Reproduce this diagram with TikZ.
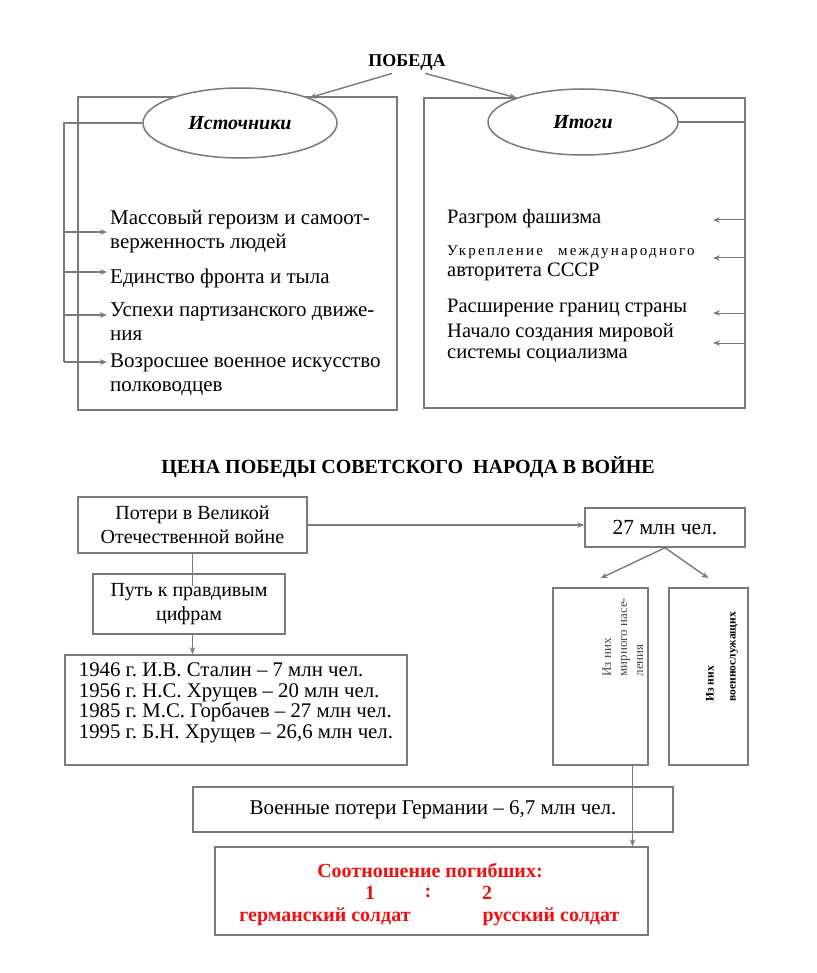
\documentclass[tikz,border=0pt]{standalone}
\usepackage{fontspec}
\setmainfont{Liberation Serif}
\frenchspacing
\usetikzlibrary{shapes.geometric,calc,arrows.meta}
\definecolor{frame}{HTML}{7A7A7A}
\definecolor{ratiored}{HTML}{F01010}
\begin{document}
\begin{tikzpicture}[x=1pt,y=-1pt,>={Stealth[length=7pt,width=5.5pt]},
    frm/.style={draw=frame,line width=1.5pt},
    box/.style={frm,fill=white,align=center,inner sep=2pt,font=\fontsize{20}{24}\selectfont},
    oval/.style={frm,ellipse,fill=white,font=\fontsize{20}{24}\selectfont\bfseries\itshape},
    conn/.style={draw=frame,line width=1.4pt},
    item/.style={anchor=west,align=left,inner sep=0pt,font=\fontsize{21}{24}\selectfont},
    ritem/.style={item,font=\fontsize{20.5}{21}\selectfont},
    rtxt/.style={text=ratiored,font=\fontsize{20}{24}\selectfont\bfseries}]
  \useasboundingbox (0,0) rectangle (816,973);
  \fill[white] (0,0) rectangle (816,973);
  \node[font=\fontsize{18}{22}\selectfont\bfseries] (pobeda) at (407,62) {ПОБЕДА};
  \draw[frm] (78,97) rectangle (397,410);
  \draw[frm] (424,98) rectangle (745,408);
  \node[oval,minimum width=194,minimum height=70] (ist) at (240,123) {Источники};
  \node[oval,minimum width=190,minimum height=66] (itog) at (583,122) {Итоги};
  \draw[conn,->] ([xshift=-15pt]pobeda.south) -- (ist.20);
  \draw[conn,->] ([xshift=18pt]pobeda.south) -- (itog.160);
  \node[item] (i1) at (110,232) {Массовый героизм и самоот-\\верженность людей};
  \node[item] (i2) at (110,278) {Единство фронта и тыла};
  \node[item] (i3) at (110,322) {Успехи партизанского движе-\\ния};
  \node[item] (i4) at (110,375) {Возросшее военное искусство\\полководцев};
  \coordinate (lbr) at (64,123);
  \foreach \n/\y in {1/232,2/272,3/315,4/362} \coordinate (la\n) at (64,\y);
  \draw[conn] (ist.west) -- (ist.west -| lbr) -- (la4);
  \foreach \n in {1,...,4} \draw[conn,->] (la\n) -- ([xshift=-3pt]la\n -| i\n.west);
  \node[ritem] (r1) at (447,219) {Разгром фашизма};
  \node[ritem] (r2) at (447,263) {{\fontsize{15}{21}\selectfont\addfontfeature{LetterSpace=15}Укрепление\quad международного}\\авторитета СССР};
  \node[ritem] (r3) at (447,308) {Расширение границ страны};
  \node[ritem] (r4) at (447,343) {Начало создания мировой\\системы социализма};
  \foreach \n/\y in {1/220,2/258,3/313,4/343} {\coordinate (ra\n) at (745,\y); \coordinate (rb\n) at (713,\y);}
  \draw[conn] (itog.east) -- (itog.east -| ra1) -- (ra4);
  \foreach \n in {1,...,4} \draw[conn,line width=1pt,->] (ra\n) -- (rb\n);
  \node[font=\fontsize{20}{24}\selectfont\bfseries] (cena) at (408,467) {ЦЕНА ПОБЕДЫ СОВЕТСКОГО\ \ НАРОДА В ВОЙНЕ};
  \node[box,minimum width=229,minimum height=56] (poteri) at (192.5,525) {Потери в Великой\\Отечественной войне};
  \node[box,minimum width=160,minimum height=39,font=\fontsize{21.5}{24}\selectfont] (mln) at (665,527.5) {27 млн чел.};
  \node[box,minimum width=192,minimum height=60] (put) at (189,604) {Путь к правдивым\\цифрам};
  \node[box,minimum width=342,minimum height=110] (spisok) at (236,710) {};
  \node[align=left,inner sep=0pt,font=\fontsize{20.8}{20.5}\selectfont] (spisoktxt) at (236,703) {1946 г. И.В. Сталин – 7 млн чел.\\1956 г. Н.С. Хрущев – 20 млн чел.\\1985 г. М.С. Горбачев – 27 млн чел.\\1995 г. Б.Н. Хрущев – 26,6 млн чел.};
  \node[box,minimum width=95,minimum height=177] (tl) at (600.5,676.5) {};
  \node[box,minimum width=79,minimum height=177] (tr) at (708.5,676.5) {};
  \node[rotate=90,anchor=west,align=left,text=black!70,font=\fontsize{13}{16}\selectfont] (tlt) at (623,680) {Из них\\мирного насе-\\ления};
  \node[rotate=90,anchor=west,align=left,font=\fontsize{11.5}{22}\selectfont\bfseries] (trt) at (722,705) {Из них\\военнослужащих};
  \draw[conn,->] (poteri.east) -- (poteri.east -| mln.west);
  \draw[conn] (poteri.south) -- ([yshift=-13pt]poteri.south |- put.north);
  \draw[conn,->] (put.south -| poteri.south) -- (poteri.south |- spisok.north);
  \draw[conn,->] (mln.south) -- ([yshift=9pt]tl.north);
  \draw[conn,->] (mln.south) -- ([yshift=9pt]tr.north);
  \node[box,minimum width=480,minimum height=45,font=\fontsize{21}{24}\selectfont] (voen) at (433,809.5) {Военные потери Германии – 6,7 млн чел.};
  \node[box,minimum width=433,minimum height=88] (ratio) at (431.5,891) {};
  \draw[conn,->] ([xshift=32pt]tl.south) -- ([xshift=32pt]tl.south |- ratio.north);
  \node[rtxt] (sootn) at (430,870) {Соотношение погибших:};
  \node[rtxt] (one) at (370,893) {1};
  \node[rtxt] (colon) at (428,893) {:};
  \node[rtxt] (two) at (487,893) {2};
  \node[rtxt] (ger) at (325,917) {германский солдат};
  \node[rtxt] (rus) at (551,917) {русский солдат};
\end{tikzpicture}
\end{document}
